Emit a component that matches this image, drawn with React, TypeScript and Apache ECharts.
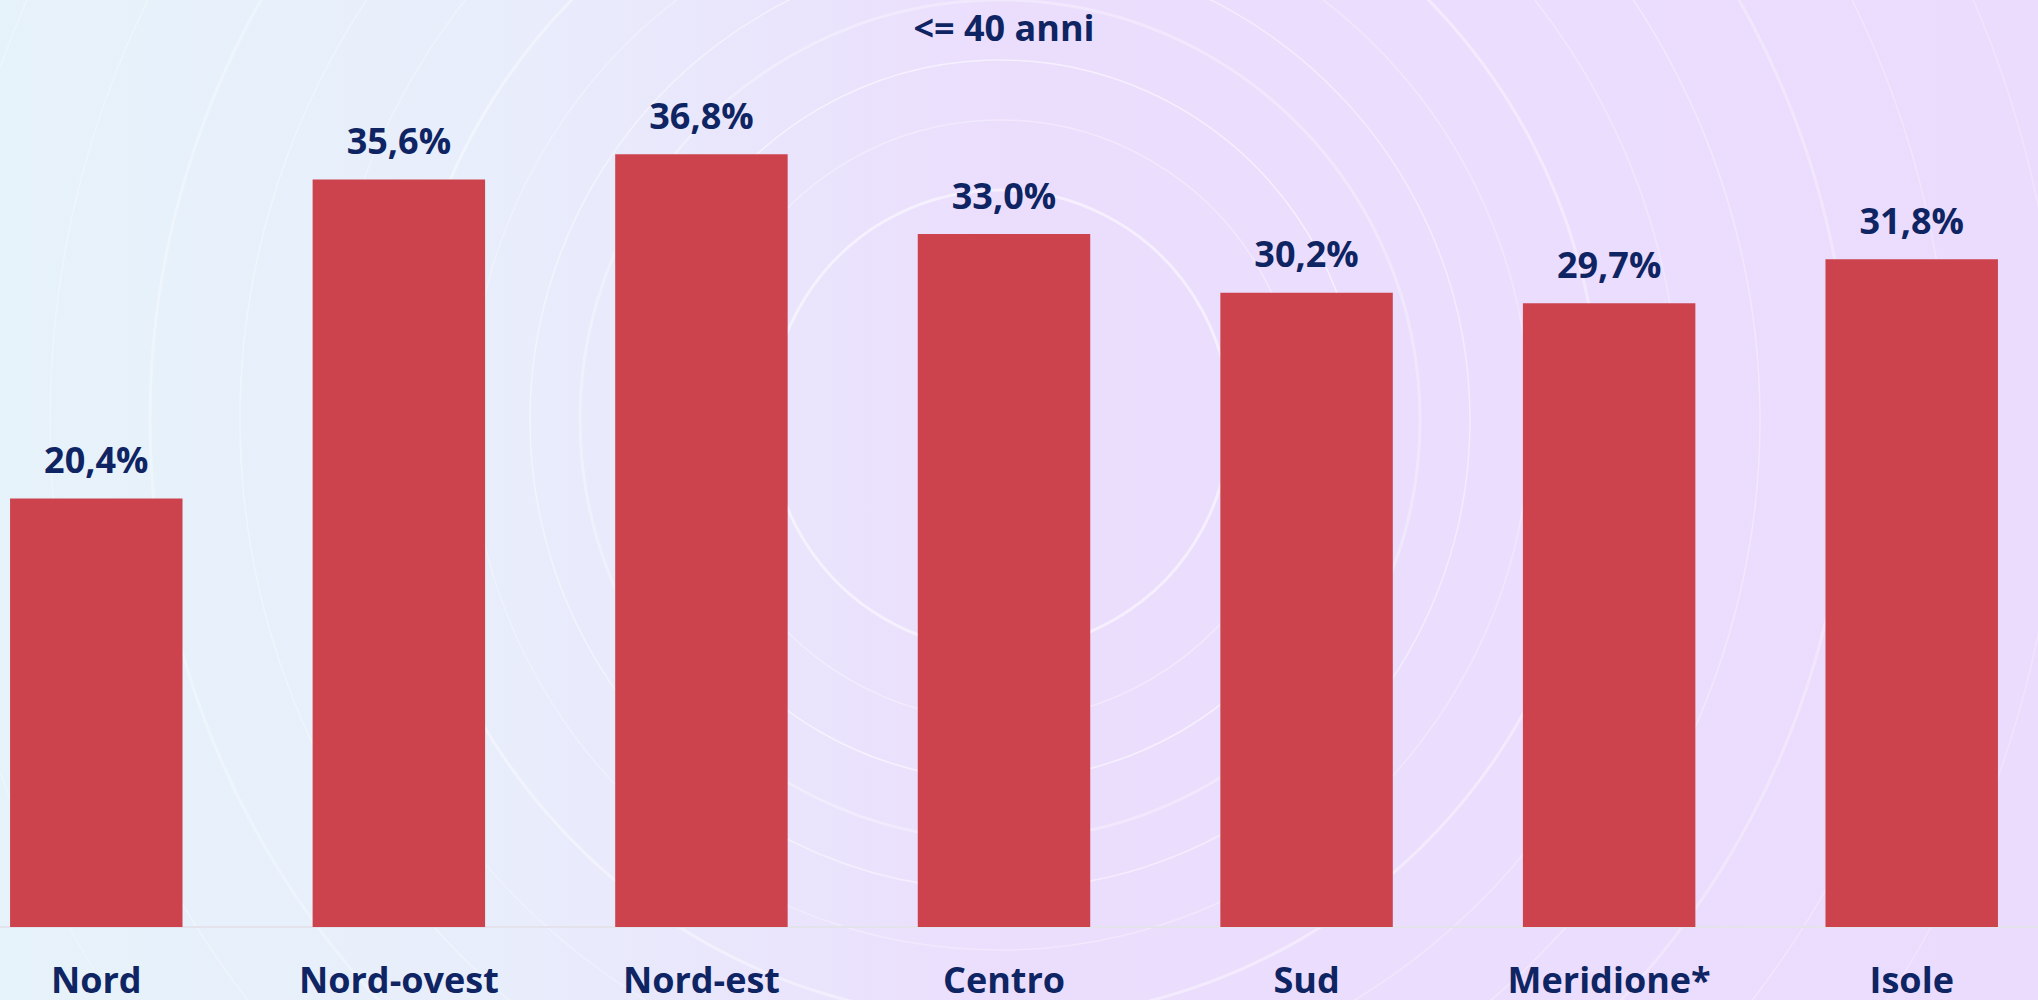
import React, { useEffect, useRef } from "react";
import * as echarts from "echarts";

const categories = ["Nord", "Nord-ovest", "Nord-est", "Centro", "Sud", "Meridione*", "Isole"];
const values = [20.4, 35.6, 36.8, 33.0, 30.2, 29.7, 31.8];
const chartTitle = "<= 40 anni";

const NAVY = "#0f2462";
const BAR = "#cd434d";
const FONT = "'Open Sans', 'Noto Sans', sans-serif";

const OFFSET = 55; // chart canvas starts 55px left of the window
const CANVAS_W = 2118;

const ringRadii = [230, 300, 360, 420, 470, 530, 600, 680, 760, 850, 950, 1060];
const ringAlpha = [0.5, 0.35, 0.55, 0.3, 0.45, 0.3, 0.4, 0.3, 0.35, 0.3, 0.3, 0.25];

export default function App() {
  const ref = useRef<HTMLDivElement>(null);
  useEffect(() => {
    if (!ref.current) return;
    const chart = echarts.init(ref.current, undefined, { renderer: "svg" });
    const rings = ringRadii.map((r, i) => ({
      type: "circle",
      z: -5,
      silent: true,
      shape: { cx: 1000 + OFFSET, cy: 420, r },
      style: { fill: "none", stroke: `rgba(255,255,255,${ringAlpha[i]})`, lineWidth: i % 3 === 0 ? 3 : 1.5 },
    }));
    chart.setOption({
      animation: false,
      backgroundColor: "#ebdcfd",
      textStyle: { fontFamily: FONT },
      graphic: [
        {
          type: "rect",
          z: -10,
          silent: true,
          shape: { x: 0, y: 0, width: CANVAS_W, height: 1000 },
          style: {
            fill: new echarts.graphic.LinearGradient(0, 0, 1, 0, [
              { offset: 0, color: "#e6f3fa" },
              { offset: 0.25, color: "#e8eefb" },
              { offset: 0.5, color: "#ebdefd" },
              { offset: 1, color: "#ebdcfd" },
            ]),
          },
        },
        ...rings,
        {
          type: "text",
          z: 10,
          x: 1004 + OFFSET,
          y: 27,
          style: {
            text: chartTitle,
            fill: NAVY,
            font: `bold 36px ${FONT}`,
            textAlign: "center",
            textVerticalAlign: "middle",
          },
        },
      ],
      grid: { left: 0, right: 0, top: 87, bottom: 73, containLabel: false },
      xAxis: {
        type: "category",
        data: categories,
        axisLine: { show: true, lineStyle: { color: "#e4e2ea", width: 2 } },
        axisTick: { show: false },
        axisLabel: {
          color: NAVY,
          fontSize: 36,
          fontWeight: "bold",
          fontFamily: FONT,
          margin: 36,
          lineHeight: 32,
          interval: 0,
        },
      },
      yAxis: { type: "value", min: 0, max: 40, show: false, splitLine: { show: false } },
      series: [
        {
          type: "bar",
          data: values,
          barWidth: "57%",
          itemStyle: { color: BAR },
          label: {
            show: true,
            position: "top",
            distance: 21,
            color: NAVY,
            fontSize: 36,
            fontWeight: "bold",
            fontFamily: FONT,
            lineHeight: 36,
            formatter: (p: any) => p.value.toFixed(1).replace(".", ",") + "%",
          },
        },
      ],
    });
    return () => chart.dispose();
  }, []);
  return (
    <div
      style={{ position: "fixed", left: 0, top: 0, width: 2038, height: 1000, overflow: "hidden" }}
    >
      <div
        ref={ref}
        style={{ position: "absolute", left: -OFFSET, top: 0, width: CANVAS_W, height: 1000 }}
      />
    </div>
  );
}
